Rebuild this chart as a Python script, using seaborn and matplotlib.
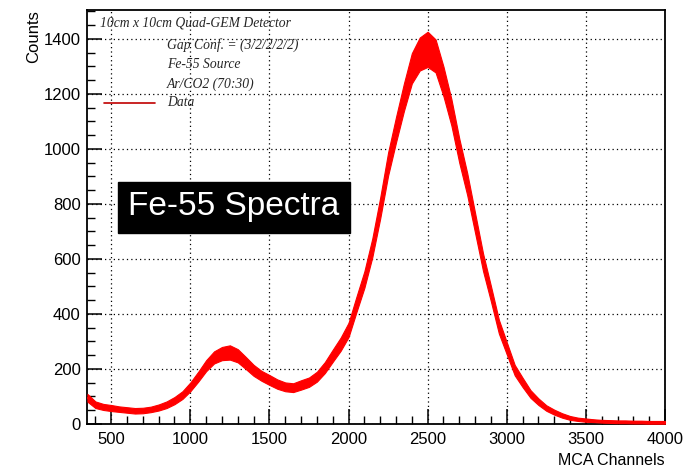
import matplotlib
matplotlib.use("Agg")
import matplotlib.pyplot as plt
from matplotlib.ticker import MultipleLocator
import numpy as np
import pandas as pd
import seaborn as sns

# MCA channel (bin centre) at which each count level is quoted
channels = list(range(350, 4001, 50))

# Mean counts per channel across the spectrum
counts = [
    95, 70, 62, 58, 54, 51, 48, 49, 53, 60,
    70, 85, 105, 135, 172, 212, 242, 256, 260, 248,
    222, 195, 175, 160, 145, 135, 132, 142, 152, 172,
    205, 248, 290, 342, 435, 525, 640, 785, 945, 1070,
    1188, 1293, 1345, 1362, 1338, 1245, 1133, 993, 872, 730,
    588, 473, 354, 275, 196, 151, 109, 81, 58, 43,
    31, 22, 17, 14, 12, 10, 9, 8, 8, 7,
    7, 6, 6, 6,
]

# Half-width of the channel-to-channel fluctuation band
spread = [
    14, 12, 11, 11, 10, 10, 10, 10, 10, 11,
    12, 13, 14, 16, 18, 20, 22, 24, 26, 24,
    22, 20, 18, 18, 17, 16, 16, 17, 17, 18,
    20, 22, 24, 26, 28, 30, 34, 38, 42, 46,
    50, 55, 60, 64, 60, 54, 48, 44, 40, 36,
    32, 28, 25, 22, 19, 17, 14, 12, 10, 9,
    8, 7, 6, 6, 5, 5, 5, 5, 5, 5,
    5, 5, 5, 5,
]

legend_lines = [
    "10cm x 10cm Quad-GEM Detector",
    "Gap Conf. = (3/2/2/2/2)",
    "Fe-55 Source",
    "Ar/CO2 (70:30)",
    "Data",
]

spec = pd.DataFrame({"channel": channels, "counts": counts, "spread": spread})
spec["low"] = spec["counts"] - spec["spread"]
spec["high"] = spec["counts"] + spec["spread"]

sns.set_theme(style="white")
plt.rcParams["font.family"] = ["Liberation Sans", "DejaVu Sans"]

fig = plt.figure(figsize=(6.97, 4.71), dpi=100)
ax = fig.add_axes([0.1255, 0.0998, 0.8286, 0.879])

red = "#ff0000"
ax.fill_between(spec["channel"], spec["low"], spec["high"], color=red,
                linewidth=0.8, edgecolor=red, zorder=3)
sns.lineplot(data=spec, x="channel", y="counts", ax=ax, color=red,
             linewidth=1.2, zorder=4)

ax.set_xlim(350, 4000)
ax.set_ylim(0, 1505)

ax.xaxis.set_major_locator(MultipleLocator(500))
ax.xaxis.set_minor_locator(MultipleLocator(100))
ax.yaxis.set_major_locator(MultipleLocator(200))
ax.yaxis.set_minor_locator(MultipleLocator(50))

ax.grid(True, which="major", color="black", linestyle=(0, (1, 2.5)),
        linewidth=0.9, zorder=1)

for s in ax.spines.values():
    s.set_color("black")
    s.set_linewidth(1.3)
    s.set_visible(True)

ax.tick_params(which="major", direction="in", length=11, width=1.1,
               color="black", labelsize=12, pad=5, labelcolor="black",
               bottom=True, left=True, top=False, right=False)
ax.tick_params(which="minor", direction="in", length=6, width=1.0,
               color="black", bottom=True, left=True, top=False, right=False)
ax.tick_params(axis="x", pad=6)

ax.set_xlabel("MCA Channels", loc="right", fontsize=11.5, labelpad=4,
              color="black")
ax.set_ylabel("Counts", loc="top", fontsize=12, labelpad=2, color="black")

# Legend block in serif italic
serif = ["Liberation Serif", "DejaVu Serif"]
fig.text(100 / 697, 1 - 23 / 471, legend_lines[0], family=serif,
         style="italic", fontsize=9.8, va="center", ha="left")
ys = [45, 64, 84, 103]
for txt, yy in zip(legend_lines[1:], ys):
    fig.text(167 / 697, 1 - yy / 471, txt, family=serif, style="italic",
             fontsize=9.8, va="center", ha="left")
fig.add_artist(plt.Line2D([104 / 697, 155 / 697], [1 - 103 / 471] * 2,
                          color="#c00000", linewidth=1.2))

# Title box
fig.text(234 / 697, 1 - 207 / 471, "Fe-55 Spectra", fontsize=24,
         color="white", ha="center", va="center",
         bbox=dict(boxstyle="square,pad=0.3", facecolor="black",
                   edgecolor="black"))

fig.savefig("out.png", dpi=100)
